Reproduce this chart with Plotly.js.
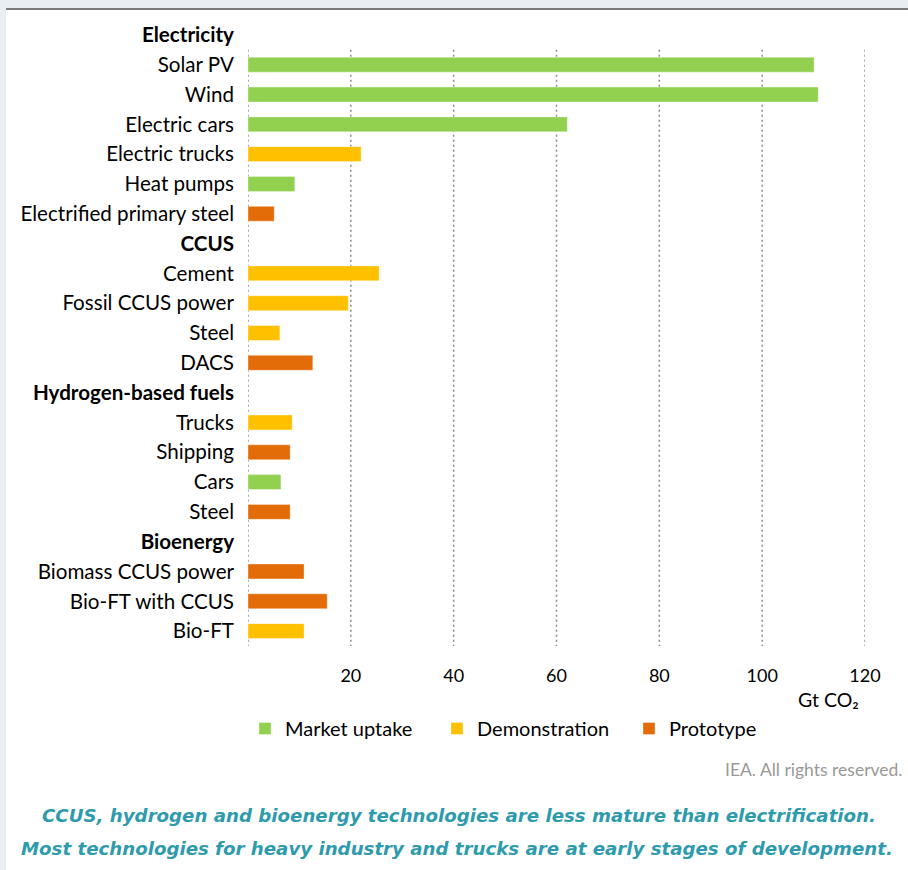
<!DOCTYPE html>
<html>
<head>
<meta charset="utf-8">
<script src="https://cdn.plot.ly/plotly-3.0.1.min.js"></script>
<style>
  html, body { margin:0; padding:0; width:908px; height:870px; overflow:hidden; background:#E9EEF2; }
  #panel { position:absolute; left:6px; top:8px; width:902px; height:862px; background:#fff; border-top:2px solid #7a7a7a; box-sizing:border-box; }
  #chart { position:absolute; left:0; top:0; width:908px; height:870px; }
</style>
</head>
<body>
<div id="panel"></div>
<div id="chart"></div>
<script>
// ---- Data ----
const categories = [
  "Electricity", "Solar PV", "Wind", "Electric cars", "Electric trucks", "Heat pumps", "Electrified primary steel",
  "CCUS", "Cement", "Fossil CCUS power", "Steel", "DACS",
  "Hydrogen-based fuels", "Trucks", "Shipping", "Cars", "Steel",
  "Bioenergy", "Biomass CCUS power", "Bio-FT with CCUS", "Bio-FT"
];
const isHeader = [
  true, false, false, false, false, false, false,
  true, false, false, false, false,
  true, false, false, false, false,
  true, false, false, false
];
const values = [
  null, 110.1, 110.9, 62.1, 22.0, 9.1, 5.1,
  null, 25.5, 19.5, 6.2, 12.6,
  null, 8.6, 8.2, 6.4, 8.2,
  null, 10.9, 15.4, 10.9
];
const stages = [
  null, "Market uptake", "Market uptake", "Market uptake", "Demonstration", "Market uptake", "Prototype",
  null, "Demonstration", "Demonstration", "Demonstration", "Prototype",
  null, "Demonstration", "Prototype", "Market uptake", "Prototype",
  null, "Prototype", "Prototype", "Demonstration"
];
const stageNames = ["Market uptake", "Demonstration", "Prototype"];
const stageColors = ["#92D050", "#FFC000", "#E36C09"];
const xTicks = [20, 40, 60, 80, 100, 120];
const gridX = [0, 20, 40, 60, 80, 100, 120];
const unitLabel = "Gt CO₂";
const sourceNote = "IEA. All rights reserved.";
const captionLines = [
  "CCUS, hydrogen and bioenergy technologies are less mature than electrification.",
  "Most technologies for heavy industry and trucks are at early stages of development."
];

// ---- Build ----
const idx = categories.map((_, i) => i);
const traces = stageNames.map((s, k) => {
  const ys = [], xs = [];
  idx.forEach(i => { if (stages[i] === s) { ys.push(i); xs.push(values[i]); } });
  return {
    type: 'bar', orientation: 'h', name: s, x: xs, y: ys,
    width: 0.5,
    marker: { color: stageColors[k], line: { color: 'rgba(255,255,255,0.35)', width: 1 } },
    hoverinfo: 'x+name'
  };
});

const ticktext = categories.map((c, i) => isHeader[i] ? '<b>' + c + '</b>' : c);
const nRows = categories.length;

const shapes = gridX.map(x => ({
  type: 'line', xref: 'x', yref: 'y', x0: x, x1: x, y0: 0.5, y1: nRows - 0.5,
  line: { color: '#8a8a8a', width: 1.5, dash: '2px,3px' }, layer: 'below'
}));

const FONT = 'Lato, "Open Sans", sans-serif';
const plotTop = 20, plotBottom = 646, plotLeft = 248, plotRight = 865;
const ph = plotBottom - plotTop, pw = plotRight - plotLeft;
const py = px => (plotBottom - px) / ph;
const pxx = px => (px - plotLeft) / pw;

const layout = {
  width: 908, height: 870,
  margin: { l: plotLeft, r: 908 - plotRight, t: plotTop, b: 870 - plotBottom, pad: 0 },
  paper_bgcolor: 'rgba(0,0,0,0)', plot_bgcolor: 'rgba(0,0,0,0)',
  font: { family: FONT, size: 20, color: '#000' },
  barmode: 'overlay',
  showlegend: true,
  legend: {
    orientation: 'h', x: pxx(245), xanchor: 'left', y: py(709), yanchor: 'top',
    font: { family: FONT, size: 20, color: '#000' }, itemclick: false,
    entrywidth: 147, entrywidthmode: 'pixels',
    bgcolor: 'rgba(0,0,0,0)'
  },
  xaxis: {
    range: [0, 120], tickvals: xTicks, ticktext: xTicks.map(String),
    showgrid: false, zeroline: false, showline: false, ticks: '',
    ticklabelstandoff: 17, tickfont: { family: FONT, size: 18, color: '#000' }, fixedrange: true
  },
  yaxis: {
    range: [nRows - 0.5, -0.5], tickvals: idx, ticktext: ticktext,
    showgrid: false, zeroline: false, showline: false, ticks: '',
    ticklabelstandoff: 13, tickfont: { family: FONT, size: 20.6, color: '#000' }, fixedrange: true
  },
  shapes: shapes,
  annotations: [
    { xref: 'paper', yref: 'paper', x: pxx(828), y: py(700), xanchor: 'center', yanchor: 'middle',
      text: unitLabel, showarrow: false, font: { family: FONT, size: 19.5, color: '#000' } },
    { xref: 'paper', yref: 'paper', x: pxx(904), y: py(770), xanchor: 'right', yanchor: 'middle',
      text: sourceNote, showarrow: false, font: { family: FONT, size: 17.5, color: '#999999' } },
    { xref: 'paper', yref: 'paper', x: pxx(459), y: py(815), xanchor: 'center', yanchor: 'middle',
      text: '<b><i>' + captionLines[0] + '</i></b>', showarrow: false,
      font: { family: '"DejaVu Sans", sans-serif', size: 18.2, color: '#2E9BAD' } },
    { xref: 'paper', yref: 'paper', x: pxx(457), y: py(848), xanchor: 'center', yanchor: 'middle',
      text: '<b><i>' + captionLines[1] + '</i></b>', showarrow: false,
      font: { family: '"DejaVu Sans", sans-serif', size: 18.2, color: '#2E9BAD' } }
  ]
};

Plotly.newPlot('chart', traces, layout, { displayModeBar: false, staticPlot: false });
</script>
</body>
</html>
